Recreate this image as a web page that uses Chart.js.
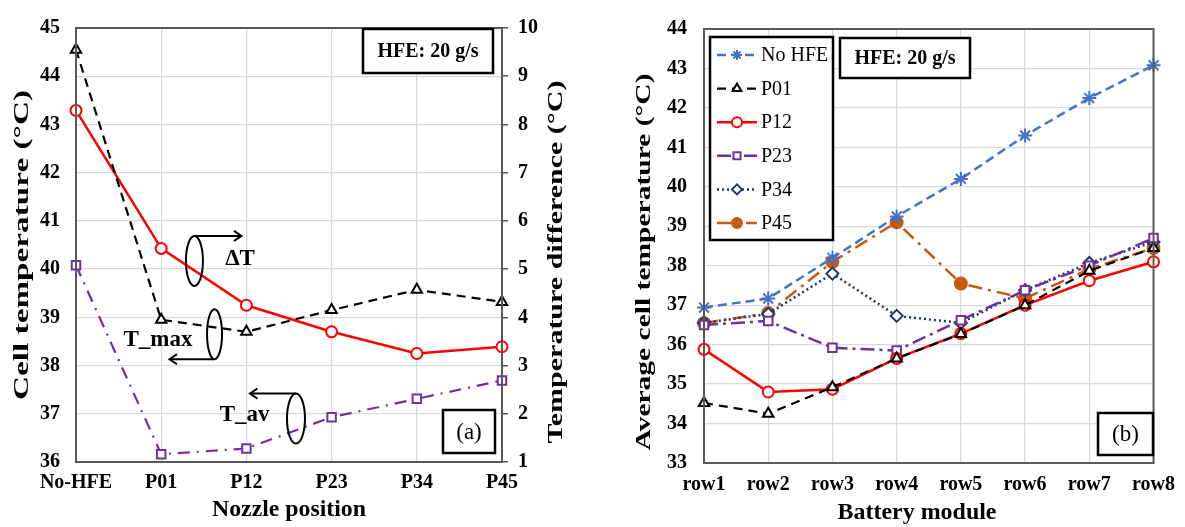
<!DOCTYPE html>
<html><head><meta charset="utf-8">
<script src="https://cdn.jsdelivr.net/npm/chart.js@4"></script>
<style>
html,body{margin:0;padding:0;background:#fff;}
#wrap{position:relative;width:1185px;height:527px;overflow:hidden;background:#fff;}
.c{position:absolute;top:0;}
</style></head><body>
<div id="wrap">
<div class="c" style="left:0;width:600px;height:527px"><canvas id="ca" width="600" height="527"></canvas></div>
<div class="c" style="left:600px;width:585px;height:527px"><canvas id="cb" width="585" height="527"></canvas></div>
</div>
<script>
// ---------- Panel (a) data ----------
const nozzleLabels = ['No-HFE', 'P01', 'P12', 'P23', 'P34', 'P45'];
const tMax   = [44.55, 38.95, 38.70, 39.15, 39.57, 39.32];   // left axis (°C)
const deltaT = [8.29, 5.43, 4.25, 3.70, 3.25, 3.39];         // right axis (°C)
const tAv    = [40.08, 36.16, 36.28, 36.93, 37.31, 37.69];   // left axis (°C)
const leftTicksA  = [36, 45];
const rightTicksA = [1, 10];

// ---------- Panel (b) data ----------
const rowLabels = ['row1', 'row2', 'row3', 'row4', 'row5', 'row6', 'row7', 'row8'];
const noHFE = [36.94, 37.17, 38.20, 39.25, 40.20, 41.30, 42.25, 43.08];
const p01   = [34.52, 34.25, 34.92, 35.65, 36.27, 37.00, 37.87, 38.45];
const p12   = [35.88, 34.80, 34.87, 35.65, 36.28, 37.00, 37.62, 38.10];
const p23   = [36.50, 36.60, 35.92, 35.85, 36.62, 37.38, 38.00, 38.70];
const p34   = [36.55, 36.78, 37.80, 36.73, 36.55, 37.38, 38.07, 38.60];
const p45   = [36.55, 36.80, 38.10, 39.10, 37.55, 37.17, 37.92, 38.45];
const ticksB = [33, 44];

const SERIF = "'Liberation Serif','Times New Roman',serif";
const GRID = '#d9d9d9';
const AXIS = '#595959';

function stretchText(ctx, text, cx, cy, len, font, rot) {
  ctx.save();
  ctx.font = font;
  const w = ctx.measureText(text).width;
  ctx.translate(cx, cy);
  ctx.rotate(rot);
  ctx.scale(len / w, 1);
  ctx.textAlign = 'center'; ctx.textBaseline = 'middle'; ctx.fillStyle = '#000';
  ctx.fillText(text, 0, 0);
  ctx.restore();
}
function boxText(ctx, x1, y1, x2, y2, text, font) {
  ctx.save();
  ctx.fillStyle = '#fff';
  ctx.fillRect(x1, y1, x2 - x1, y2 - y1);
  ctx.strokeStyle = '#000'; ctx.lineWidth = 2.5; ctx.setLineDash([]);
  ctx.strokeRect(x1, y1, x2 - x1, y2 - y1);
  ctx.fillStyle = '#000'; ctx.font = font; ctx.textAlign = 'center'; ctx.textBaseline = 'middle';
  ctx.fillText(text, (x1 + x2) / 2, (y1 + y2) / 2 + 1);
  ctx.restore();
}
function frame(ctx, a) {
  ctx.save();
  ctx.strokeStyle = AXIS; ctx.lineWidth = 2; ctx.setLineDash([]);
  ctx.strokeRect(a.left, a.top, a.right - a.left, a.bottom - a.top);
  ctx.restore();
}
function arrow(ctx, x1, y1, x2, y2) {
  ctx.beginPath(); ctx.moveTo(x1, y1); ctx.lineTo(x2, y2); ctx.stroke();
  const ang = Math.atan2(y2 - y1, x2 - x1), s = 9;
  ctx.beginPath();
  ctx.moveTo(x2 - s * Math.cos(ang - 0.6), y2 - s * Math.sin(ang - 0.6));
  ctx.lineTo(x2, y2);
  ctx.lineTo(x2 - s * Math.cos(ang + 0.6), y2 - s * Math.sin(ang + 0.6));
  ctx.stroke();
}

const tickFont = {family: SERIF, size: 20, weight: 'bold'};

// ---------- Panel (a) ----------
const decoA = {
  id: 'decoA',
  afterDraw(chart) {
    const ctx = chart.ctx, a = chart.chartArea;
    const xs = chart.scales.x, ys = chart.scales.y;
    const P = (i, v) => [xs.getPixelForValue(i), ys.getPixelForValue(v)];
    frame(ctx, a);
    stretchText(ctx, 'Cell temperature (°C)', 22, 245, 310, 'bold 22px ' + SERIF, -Math.PI / 2);
    stretchText(ctx, 'Temperature difference (°C)', 556, 262, 363, 'bold 22px ' + SERIF, -Math.PI / 2);
    stretchText(ctx, 'Nozzle position', (a.left + a.right) / 2, 510, 154, 'bold 24px ' + SERIF, 0);
    boxText(ctx, 363, 29, 493, 73, 'HFE: 20 g/s', 'bold 20px ' + SERIF);
    boxText(ctx, 443, 410, 495, 453, '(a)', '23px ' + SERIF);

    ctx.save();
    ctx.strokeStyle = '#000'; ctx.lineWidth = 2; ctx.setLineDash([]);
    ctx.fillStyle = '#000'; ctx.textAlign = 'center'; ctx.textBaseline = 'middle';
    ctx.font = 'bold 23px ' + SERIF;
    // ΔT (right axis)
    let [ex, ey] = P(1.39, 40.17);
    ctx.beginPath(); ctx.ellipse(ex, ey, 8.5, 25, 0, 0, 2 * Math.PI); ctx.stroke();
    arrow(ctx, ex, ey - 25, ex + 47, ey - 25);
    let [tx, ty] = P(1.925, 40.2); ctx.fillText('ΔT', tx, ty);
    // T_max (left axis)
    [ex, ey] = P(1.626, 38.65);
    ctx.beginPath(); ctx.ellipse(ex, ey, 7.5, 25, 0, 0, 2 * Math.PI); ctx.stroke();
    arrow(ctx, ex, ey + 25, ex - 45, ey + 25);
    [tx, ty] = P(0.962, 38.53); ctx.fillText('T_max', tx, ty);
    // T_av (left axis)
    [ex, ey] = P(2.582, 36.9);
    ctx.beginPath(); ctx.ellipse(ex, ey, 9, 25, 0, 0, 2 * Math.PI); ctx.stroke();
    arrow(ctx, ex, ey - 25, ex - 46, ey - 25);
    [tx, ty] = P(1.98, 36.98); ctx.fillText('T_av', tx, ty);
    ctx.restore();
  }
};

new Chart(document.getElementById('ca'), {
  type: 'line',
  data: {
    labels: nozzleLabels,
    datasets: [
      {label: 'T_max', data: tMax, yAxisID: 'y', borderColor: '#000', borderWidth: 2.2, borderDash: [9, 6],
       pointStyle: 'triangle', pointRadius: 6, pointBorderWidth: 2, pointBorderColor: '#000', pointBackgroundColor: '#fff', tension: 0, clip: false},
      {label: 'ΔT', data: deltaT, yAxisID: 'y1', borderColor: '#ff0000', borderWidth: 2.5,
       pointStyle: 'circle', pointRadius: 5.5, pointBorderWidth: 2, pointBorderColor: '#ff0000', pointBackgroundColor: '#fff', tension: 0, clip: false},
      {label: 'T_av', data: tAv, yAxisID: 'y', borderColor: '#7030a0', borderWidth: 2.2, borderDash: [12, 7, 2, 7],
       pointStyle: 'rect', pointRadius: 6, pointBorderWidth: 2, pointBorderColor: '#7030a0', pointBackgroundColor: '#fff', tension: 0, clip: false}
    ]
  },
  options: {
    responsive: false, animation: false, devicePixelRatio: 1,
    layout: {padding: {top: 21, left: 0, right: 0, bottom: 0}},
    plugins: {legend: {display: false}, tooltip: {enabled: false}},
    scales: {
      x: {
        offset: false,
        grid: {color: GRID, lineWidth: 1.3, drawTicks: false},
        border: {color: AXIS, width: 2},
        ticks: {font: tickFont, color: '#000', padding: 9, autoSkip: false, maxRotation: 0},
        afterFit(s) { s.height = 65; }
      },
      y: {
        position: 'left', min: leftTicksA[0], max: leftTicksA[1],
        grid: {color: GRID, lineWidth: 1.3, drawTicks: false},
        border: {color: AXIS, width: 2},
        ticks: {stepSize: 1, font: tickFont, color: '#000', padding: 16},
        afterFit(s) { s.width = 76; }
      },
      y1: {
        position: 'right', min: rightTicksA[0], max: rightTicksA[1],
        grid: {drawOnChartArea: false, drawTicks: true, tickLength: 6, color: AXIS, lineWidth: 1.5},
        border: {color: AXIS, width: 2},
        ticks: {stepSize: 1, font: tickFont, color: '#000', padding: 10},
        afterFit(s) { s.width = 98; }
      }
    }
  },
  plugins: [decoA]
});

// ---------- Panel (b) ----------
const decoB = {
  id: 'decoB',
  afterDraw(chart) {
    const ctx = chart.ctx, a = chart.chartArea;
    frame(ctx, a);
    stretchText(ctx, 'Average cell temperature (°C)', 44, 262, 377, 'bold 22px ' + SERIF, -Math.PI / 2);
    stretchText(ctx, 'Battery module', 317, 513, 159, 'bold 24px ' + SERIF, 0);
    boxText(ctx, 240, 38, 370, 78, 'HFE: 20 g/s', 'bold 20px ' + SERIF);
    boxText(ctx, 498, 413, 553, 455, '(b)', '23px ' + SERIF);

    // legend
    const lx1 = 110, ly1 = 37, lx2 = 233, ly2 = 240;
    ctx.save();
    ctx.fillStyle = '#fff'; ctx.fillRect(lx1, ly1, lx2 - lx1, ly2 - ly1);
    ctx.strokeStyle = '#000'; ctx.lineWidth = 2.5; ctx.setLineDash([]);
    ctx.strokeRect(lx1, ly1, lx2 - lx1, ly2 - ly1);
    chart.data.datasets.forEach((ds, i) => {
      const y = 55 + i * 33.6;
      ctx.save();
      ctx.strokeStyle = ds.borderColor; ctx.lineWidth = ds.borderWidth;
      ctx.setLineDash(ds.borderDash || []);
      ctx.beginPath(); ctx.moveTo(117, y); ctx.lineTo(157, y); ctx.stroke();
      ctx.setLineDash([]);
      ctx.strokeStyle = ds.pointBorderColor; ctx.fillStyle = ds.pointBackgroundColor;
      ctx.lineWidth = ds.pointBorderWidth;
      Chart.helpers.drawPoint(ctx, {pointStyle: ds.pointStyle, radius: Math.min(ds.pointRadius, 5), rotation: 0, borderWidth: ds.pointBorderWidth}, 137, y);
      ctx.restore();
      ctx.fillStyle = '#000'; ctx.font = '20px ' + SERIF; ctx.textAlign = 'left'; ctx.textBaseline = 'middle';
      ctx.fillText(ds.label, 161, y + 1);
    });
    ctx.restore();
  }
};

function ds(label, data, color, dash, style, fill, radius, width) {
  return {label, data, borderColor: color, borderWidth: width || 2.5, borderDash: dash,
    pointStyle: style, pointRadius: radius || 6, pointBorderWidth: 2, pointBorderColor: color,
    pointBackgroundColor: fill, tension: 0, clip: false};
}

new Chart(document.getElementById('cb'), {
  type: 'line',
  data: {
    labels: rowLabels,
    datasets: [
      ds('No HFE', noHFE, '#4472c4', [9, 5], 'star', '#4472c4', 7, 2.5),
      ds('P01', p01, '#000000', [9, 6], 'triangle', '#fff', 6, 2.2),
      ds('P12', p12, '#ff0000', [], 'circle', '#fff', 5.5, 2.5),
      ds('P23', p23, '#7030a0', [14, 5, 3, 5], 'rect', '#fff', 6, 2.5),
      ds('P34', p34, '#203864', [2, 3], 'rectRot', '#fff', 6, 2.5),
      ds('P45', p45, '#c55a11', [14, 6, 3, 6], 'circle', '#c55a11', 6, 2.5)
    ]
  },
  options: {
    responsive: false, animation: false, devicePixelRatio: 1,
    layout: {padding: {top: 28, left: 0, right: 26, bottom: 0}},
    plugins: {legend: {display: false}, tooltip: {enabled: false}},
    scales: {
      x: {
        offset: false,
        grid: {color: GRID, lineWidth: 1.3, drawTicks: false},
        border: {color: AXIS, width: 2},
        ticks: {font: tickFont, color: '#000', padding: 10, autoSkip: false, maxRotation: 0},
        afterFit(s) { s.height = 64; }
      },
      y: {
        min: ticksB[0], max: ticksB[1],
        grid: {color: GRID, lineWidth: 1.3, drawTicks: false},
        border: {color: AXIS, width: 2},
        ticks: {stepSize: 1, font: tickFont, color: '#000', padding: 17},
        afterFit(s) { s.width = 104; }
      }
    }
  },
  plugins: [decoB]
});
</script>
</body></html>
